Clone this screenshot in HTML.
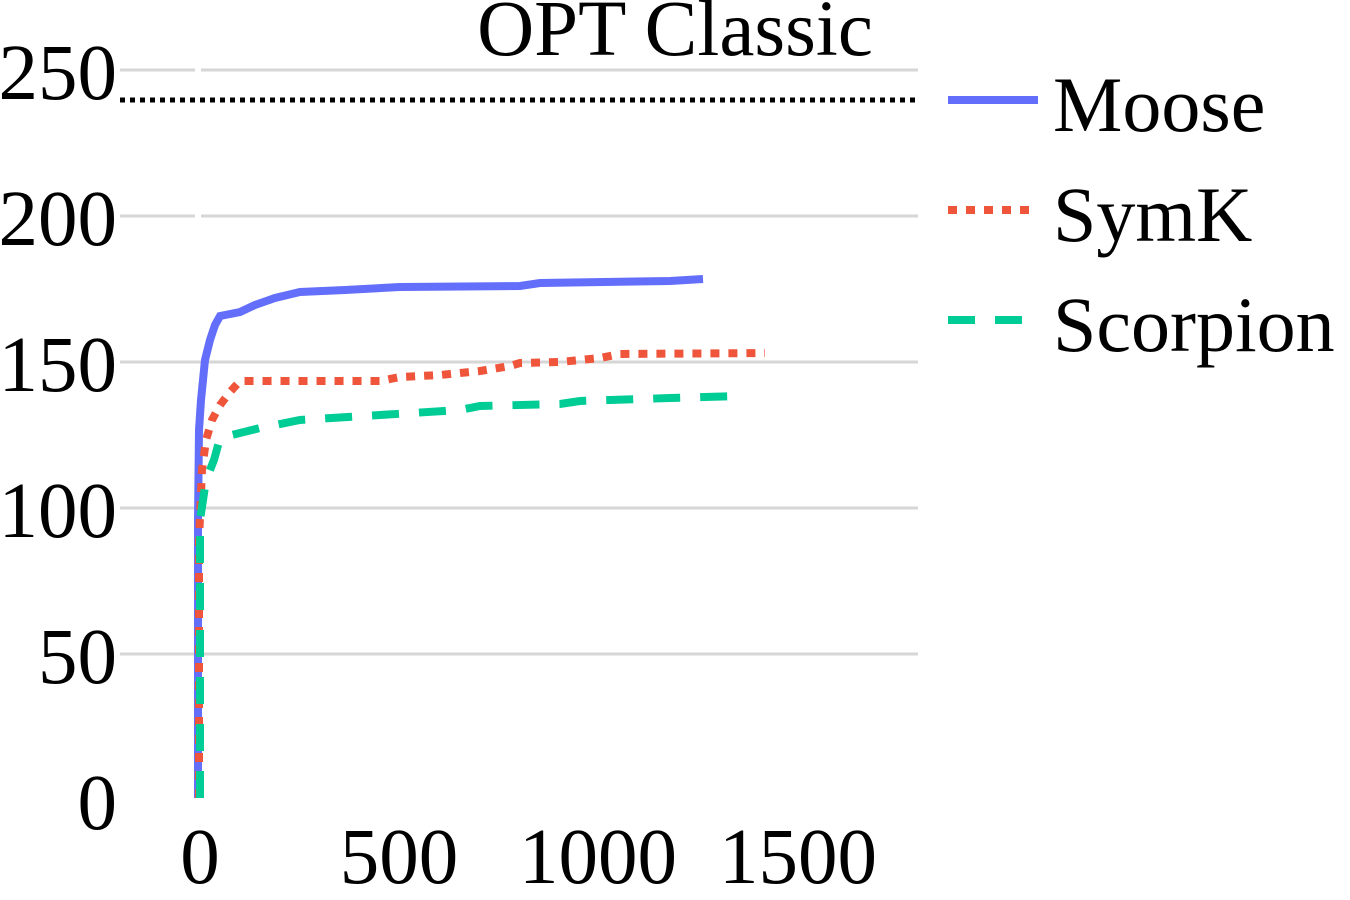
<!DOCTYPE html>
<html><head><meta charset="utf-8"><style>
html,body{margin:0;padding:0;background:#fff;width:1350px;height:900px;overflow:hidden}
text{font-family:"Liberation Serif",serif;fill:#000}
</style></head><body>
<svg width="1350" height="900" viewBox="0 0 1350 900">
<g stroke="#d6d6d6" stroke-width="3">
<line x1="120" y1="70" x2="918" y2="70"/>
<line x1="120" y1="216" x2="918" y2="216"/>
<line x1="120" y1="362" x2="918" y2="362"/>
<line x1="120" y1="508" x2="918" y2="508"/>
<line x1="120" y1="654" x2="918" y2="654"/>
</g>
<line x1="198" y1="60" x2="198" y2="230" stroke="#fff" stroke-width="6"/>
<line x1="120" y1="100" x2="918" y2="100" stroke="#000" stroke-width="5" stroke-dasharray="5,5"/>
<g fill="none" stroke-width="8" stroke-linejoin="miter">
<polyline stroke="#636efa" points="198,798 198,520 199,430 201,400 205,360 210,340 215,325 220,316 240,312 255,305 275,298 300,292 345,290 400,287 520,286 540,283 670,281 703,279"/>
<polyline stroke="#ef553b" stroke-dasharray="9,9" points="199,798 199,540 202,470 206,440 212,420 220,405 230,392 240,381 380,381 400,377 440,375 480,371 510,366 520,363 560,362 600,358 620,354 765,353"/>
<polyline stroke="#00cc96" stroke-dasharray="27,20" points="200,798 200,520 203,500 206,480 210,470 214,460 220,438 260,428 300,420 460,410 480,406 560,404 580,401 670,398 740,396"/>
</g>
<g font-size="79" text-anchor="end">
<text x="117" y="99">250</text>
<text x="117" y="245">200</text>
<text x="117" y="391">150</text>
<text x="117" y="537">100</text>
<text x="117" y="683">50</text>
<text x="117" y="829">0</text>
</g>
<g font-size="79" text-anchor="middle">
<text x="200" y="883">0</text>
<text x="399" y="883">500</text>
<text x="598" y="883">1000</text>
<text x="798" y="883">1500</text>
<text x="675" y="55">OPT Classic</text>
</g>
<line x1="948" y1="100" x2="1038" y2="100" stroke="#636efa" stroke-width="8"/>
<line x1="948" y1="210" x2="1038" y2="210" stroke="#ef553b" stroke-width="8" stroke-dasharray="9,9"/>
<line x1="948" y1="320" x2="1038" y2="320" stroke="#00cc96" stroke-width="8" stroke-dasharray="27,20"/>
<g font-size="78">
<text x="1053" y="131">Moose</text>
<text x="1053" y="241">SymK</text>
<text x="1053" y="351">Scorpion</text>
</g>
</svg>
</body></html>
